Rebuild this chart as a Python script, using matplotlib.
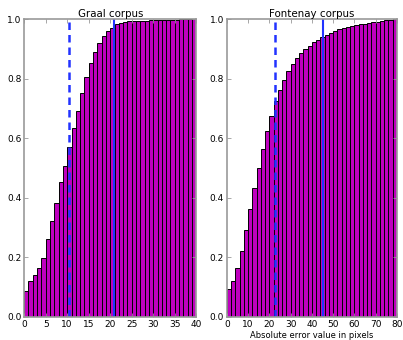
import matplotlib
matplotlib.use('Agg')
import matplotlib.pyplot as plt
import numpy as np

# cumulative share of samples per absolute error bin
graal_cdf = [0.086, 0.122, 0.141, 0.163, 0.197, 0.263, 0.322, 0.381, 0.454, 0.508,
             0.570, 0.634, 0.692, 0.751, 0.807, 0.851, 0.890, 0.921, 0.944, 0.960,
             0.971, 0.982, 0.987, 0.990, 0.992, 0.993, 0.994, 0.994, 0.995, 0.996,
             0.996, 0.997, 0.997, 0.998, 0.998, 0.998, 0.999, 0.999, 1.000, 1.000]
fontenay_cdf = [0.095, 0.122, 0.163, 0.221, 0.291, 0.363, 0.432, 0.499, 0.564, 0.625,
                0.676, 0.724, 0.762, 0.796, 0.826, 0.850, 0.868, 0.885, 0.898, 0.911,
                0.922, 0.931, 0.940, 0.947, 0.954, 0.960, 0.965, 0.970, 0.974, 0.978,
                0.980, 0.982, 0.984, 0.987, 0.989, 0.991, 0.993, 0.996, 0.998, 1.000]
graal_bin = 1
fontenay_bin = 2
graal_lines = [10.4, 20.9]      # dashed, solid
fontenay_lines = [22.5, 45.2]

panels = [
    ('Graal corpus', graal_cdf, graal_bin, graal_lines, [0.06, 0.068, 0.427, 0.876], ''),
    ('Fontenay corpus', fontenay_cdf, fontenay_bin, fontenay_lines, [0.563, 0.068, 0.422, 0.876],
     'Absolute error value in pixels'),
]

fig = plt.figure(figsize=(4.03, 3.4), dpi=100)
for title, cdf, width, lines, pos, xlabel in panels:
    ax = fig.add_axes(pos)
    left = np.arange(len(cdf)) * width
    ax.bar(left, cdf, width=width, align='edge', color='#bf00bf', edgecolor='black', linewidth=0.7)
    ax.axvline(lines[0], color='#2233ff', linestyle='--', linewidth=1.8, dashes=(3, 2))
    ax.axvline(lines[1], color='#2233ff', linewidth=1.5)
    ax.set_xlim(0, len(cdf) * width)
    ax.set_ylim(0, 1)
    ax.set_yticks([0, 0.2, 0.4, 0.6, 0.8, 1.0])
    ax.set_xticks(np.arange(0, len(cdf) * width + 1, 5 * width))
    ax.set_title(title, fontsize=7.4, pad=1.5)
    if xlabel:
        ax.set_xlabel(xlabel, fontsize=6.0, labelpad=1.5)
    ax.tick_params(direction='in', top=True, right=True, labelsize=6.5, length=3,
                   width=0.6, color='#999999', pad=2)
    for s in ax.spines.values():
        s.set_color('#999999')
        s.set_linewidth(1.2)

plt.savefig('out.png', dpi=100)
plt.close()
